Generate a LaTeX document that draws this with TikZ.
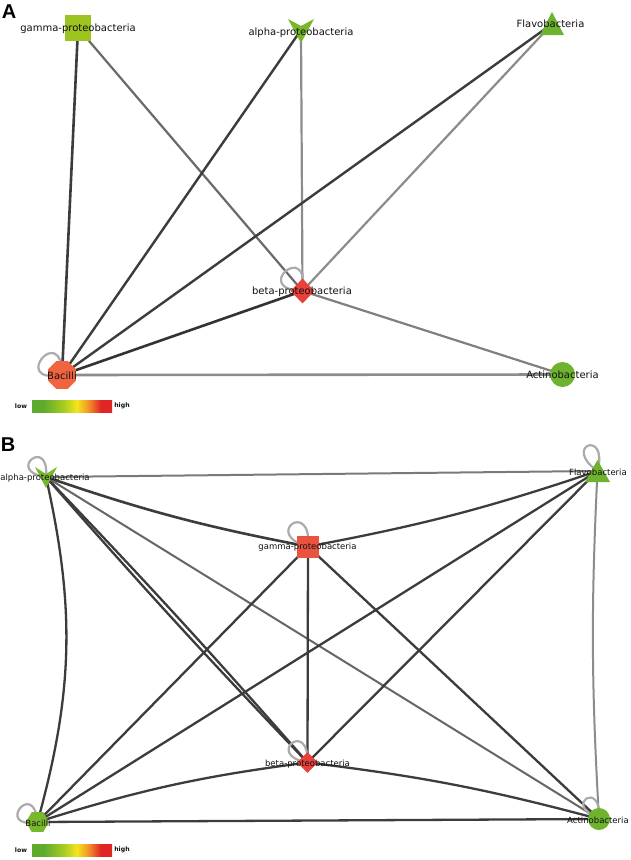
\documentclass[tikz,border=0pt]{standalone}
\usepackage{fontspec}
\setmainfont{DejaVu Sans}
\newfontfamily\headfont{Liberation Sans}
\usetikzlibrary{shapes.geometric}
\pgfdeclarelayer{paper}
\pgfdeclarelayer{bg}
\pgfsetlayers{paper,bg,main}
\definecolor{txt}{HTML}{111111}
\definecolor{cGam}{HTML}{9DC31F}
\definecolor{cGrn}{HTML}{6DB32E}
\definecolor{cAlp}{HTML}{78B62B}
\definecolor{cRed}{HTML}{E8403B}
\definecolor{cOra}{HTML}{F06440}
\definecolor{cGamB}{HTML}{EA5340}
\definecolor{cBacB}{HTML}{79B82B}
\definecolor{eDark}{HTML}{3C3C3C}
\definecolor{eMid}{HTML}{6A6A6A}
\definecolor{eLight}{HTML}{8C8C8C}
\definecolor{eLoop}{HTML}{ABABAB}
\definecolor{barG}{HTML}{5DAA2C}
\definecolor{barLG}{HTML}{A8CC22}
\definecolor{barY}{HTML}{F4E51C}
\definecolor{barO}{HTML}{F08A28}
\definecolor{barR}{HTML}{E02525}
\pgfdeclarehorizontalshading{lowhigh}{100bp}{color(0bp)=(barG); color(25bp)=(barG); color(32bp)=(barG); color(45bp)=(barLG); color(53bp)=(barY); color(61bp)=(barO); color(68bp)=(barR); color(75bp)=(barR); color(100bp)=(barR)}
\begin{document}
\begin{tikzpicture}[x=1pt,y=1pt,
  lblA/.style={font=\fontsize{10}{12}\selectfont, text=txt, inner sep=0pt},
  lblB/.style={font=\fontsize{8.5}{10}\selectfont, text=txt, inner sep=0pt},
  headst/.style={font=\headfont\bfseries\fontsize{20}{22}\selectfont, inner sep=0pt},
  barlbl/.style={font=\bfseries\fontsize{6.2}{7}\selectfont, text=txt, inner sep=0pt},
  barst/.style={shade, shading=lowhigh, minimum width=80pt, minimum height=12pt, inner sep=0pt},
  shp/.style={inner sep=0pt, draw=none},
  eD/.style={draw=eDark, line width=2.4pt},
  eM/.style={draw=eMid, line width=2.2pt},
  eL/.style={draw=eLight, line width=2.2pt},
  eK/.style={draw=eDark, line width=2.3pt},
  loopst/.style={draw=eLoop, line width=2.2pt}]
\useasboundingbox (0,0) rectangle (630,-860);
\begin{pgfonlayer}{paper}
\fill[white] (0,0) rectangle (630,-860);
\end{pgfonlayer}

% ---------------- Panel A ----------------
\node[headst] (pA) at (9,-12) {A};
\node[shp, rectangle, fill=cGam, minimum size=26pt] (gA) at (78,-28) {};
\coordinate (aA) at (301,-30);
\coordinate (fA) at (552,-24);
\node[shp, diamond, fill=cRed, minimum width=24pt, minimum height=25pt] (bA) at (302.5,-291) {};
\node[shp, regular polygon, regular polygon sides=8, fill=cOra, minimum size=30pt] (cA) at (62,-375) {};
\node[shp, circle, fill=cGrn, minimum size=25pt] (tA) at (562.5,-374.5) {};
\fill[cAlp, shift={(aA)}] (-13,11) -- (0,4) -- (13,11) -- (0,-13) -- cycle;
\fill[cGrn, shift={(fA)}] (0,12) -- (12,-11) -- (-12,-11) -- cycle;

\begin{pgfonlayer}{bg}
\draw[eD, line width=2.6pt] (gA.center) -- (cA.center);
\draw[eM] (gA.center) -- (bA.center);
\draw[eD] (aA) -- (cA.center);
\draw[eL] (aA) -- (bA.center);
\draw[eD] (fA) -- (cA.center);
\draw[eL] (fA) -- (bA.center);
\draw[eD, line width=2.6pt, draw=black!80] (bA.center) -- (cA.center);
\draw[eL, draw=black!50] (bA.center) -- (tA.center);
\draw[eL, line width=2.6pt] (cA.center) -- (tA.center);
\draw[loopst] (bA.center) to[out=178,in=82,distance=52pt] (bA.center);
\draw[loopst] (cA.center) to[out=190,in=90,distance=54pt] (cA.center);
\end{pgfonlayer}

\node[lblA] (gAl) at (78,-29) {gamma-proteobacteria};
\node[lblA] (aAl) at (301,-33) {alpha-proteobacteria};
\node[lblA] (fAl) at (550.5,-24) {Flavobacteria};
\node[lblA] (bAl) at (302,-292) {beta-proteobacteria};
\node[lblA] (cAl) at (62,-375.5) {Bacilli};
\node[lblA] (tAl) at (562.5,-375) {Actinobacteria};

\node[barst] (barA) at (72,-406) {};
\node[barlbl] (lowA) at (21,-406) {low};
\node[barlbl] (highA) at (122,-406) {high};

% ---------------- Panel B ----------------
\node[headst] (pB) at (8,-445) {B};
\coordinate (aB) at (46,-477);
\coordinate (fB) at (597.5,-471);
\node[shp, rectangle, fill=cGamB, minimum size=22pt] (gB) at (308,-546.5) {};
\node[shp, diamond, fill=cRed, minimum width=21pt, minimum height=21pt] (bB) at (307.5,-762.5) {};
\node[shp, regular polygon, regular polygon sides=6, fill=cBacB, minimum size=23pt] (hB) at (37.5,-822) {};
\node[shp, circle, fill=cGrn, minimum size=22pt] (tB) at (599,-819) {};
\fill[cAlp, shift={(aB)}] (-11,10) -- (0,3) -- (11,10) -- (0,-11) -- cycle;
\fill[cGrn, shift={(fB)}] (0,11) -- (12.5,-11) -- (-12.5,-11) -- cycle;

\begin{pgfonlayer}{bg}
\draw[eL, draw=black!52, line width=2pt] (aB) -- (fB);
\draw[eK, line width=2.6pt] (aB) to[bend right=4] (gB.center);
\draw[eK] (aB) to[bend left=14] (hB.center);
\draw[eK] (aB) to[bend left=1.2] (bB.center);
\draw[eK] (aB) to[bend right=1.2] (bB.center);
\draw[eM, line width=2pt, draw=black!60] (aB) -- (tB.center);
\draw[eK] (gB.center) -- (hB.center);
\draw[eK] (gB.center) -- (bB.center);
\draw[eK] (gB.center) -- (tB.center);
\draw[eK] (gB.center) to[bend right=4] (fB);
\draw[eK] (fB) -- (hB.center);
\draw[eK] (fB) -- (bB.center);
\draw[eL, line width=2pt] (fB) to[bend right=3] (tB.center);
\draw[eK] (hB.center) to[bend left=5] (bB.center);
\draw[eK] (hB.center) -- (tB.center);
\draw[eK] (bB.center) to[bend left=4] (tB.center);
\draw[loopst] (aB) to[out=172,in=85,distance=42pt] (aB);
\draw[loopst] (fB) to[out=145,in=75,distance=44pt] (fB);
\draw[loopst] (gB.center) to[out=165,in=85,distance=48pt] (gB.center);
\draw[loopst] (bB.center) to[out=170,in=88,distance=44pt] (bB.center);
\draw[loopst] (hB.center) to[out=190,in=95,distance=44pt] (hB.center);
\draw[loopst] (tB.center) to[out=158,in=85,distance=40pt] (tB.center);
\end{pgfonlayer}

\node[lblB] (aBl) at (45,-478) {alpha-proteobacteria};
\node[lblB] (fBl) at (598,-472) {Flavobacteria};
\node[lblB] (gBl) at (307.5,-547.5) {gamma-proteobacteria};
\node[lblB] (bBl) at (307.5,-764) {beta-proteobacteria};
\node[lblB] (hBl) at (38,-823.5) {Bacilli};
\node[lblB] (tBl) at (598,-820) {Actinobacteria};

\node[barst] (barB) at (72,-850) {};
\node[barlbl] (lowB) at (21,-850) {low};
\node[barlbl] (highB) at (122,-850) {high};
\end{tikzpicture}
\end{document}
